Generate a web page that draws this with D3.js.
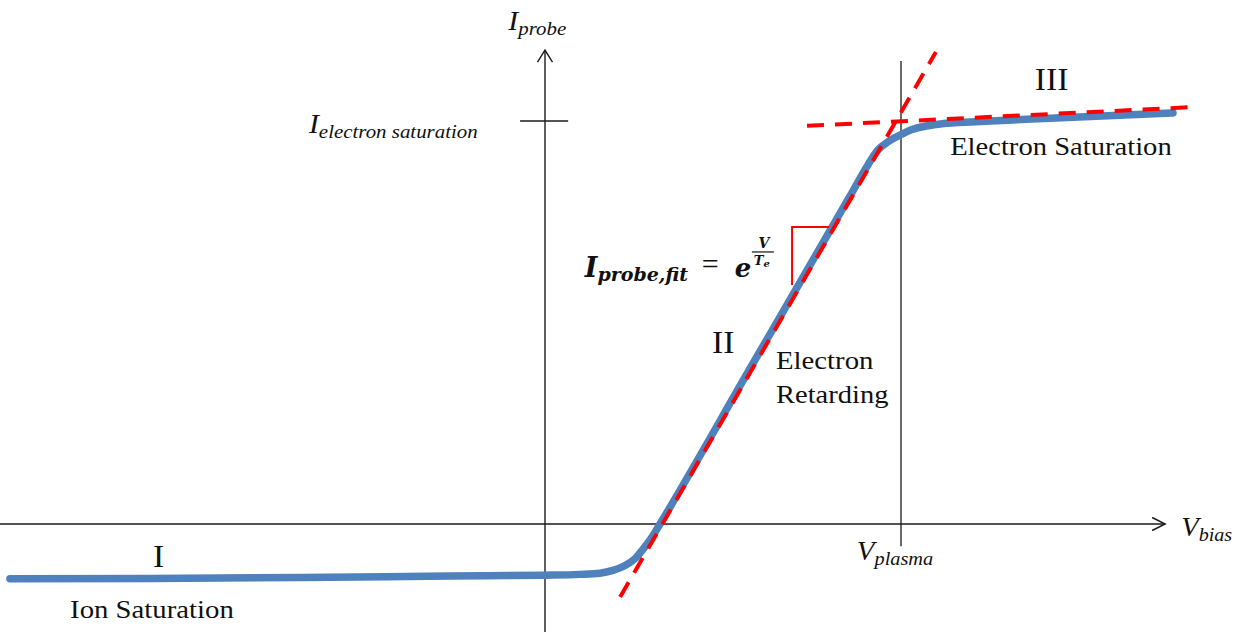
<!DOCTYPE html>
<html>
<head>
<meta charset="utf-8">
<script src="https://cdn.jsdelivr.net/npm/d3@7"></script>
<style>
  html, body { margin: 0; padding: 0; background: #fff; }
  svg { display: block; }
  text { font-family: "Liberation Serif", "Times New Roman", serif; fill: #111; }
  .math { font-family: "DejaVu Serif", serif; font-weight: bold; font-style: italic; }
</style>
</head>
<body>
<svg id="chart" width="1238" height="634"></svg>
<script>
// Langmuir probe I-V characteristic (arbitrary units)
const vBias = [-15.03, -11.10, -6.88, -2.67, 0, 0.98, 1.54, 1.91, 2.25, 2.53, 2.75, 3.01, 3.23,
               5.76, 8.57, 9.07, 9.35, 9.66, 9.97, 10.31, 10.67, 11.15, 12.08, 14.19, 17.64];
const iProbe = [-1.36, -1.35, -1.33, -1.29, -1.27, -1.25, -1.22, -1.15, -1.03, -0.86, -0.63, -0.32, 0,
                3.86, 8.14, 8.91, 9.28, 9.50, 9.65, 9.79, 9.87, 9.93, 9.98, 10.07, 10.20];

// Exponential (electron retarding) fit line
const fitV = [2.11, 10.98];
const fitI = [-1.81, 11.71];
// Electron saturation trend line
const satV = [7.36, 18.31];
const satI = [9.88, 10.35];

// Reference levels
const vPlasma = 10;
const iElectronSat = 10;

// Axis extents
const vAxisExtent = [-15.31, 17.42];
const iAxisExtent = [-2.68, 11.76];
const vPlasmaLineExtent = [-0.55, 11.49];
const iSatTickExtent = [-0.70, 0.65];

// Slope marker on the fit line
const slopeMarkV = [6.94, 6.94, 7.98];
const slopeMarkI = [5.93, 7.37, 7.37];

// Region labels
const regionNames = ["I", "II", "III"];
const regionV = [-11.01, 4.69, 13.76];
const regionI = [-1.07, 4.24, 10.78];

const svg = d3.select("#chart");

const x = d3.scaleLinear().domain([0, 10]).range([545, 901]);
const y = d3.scaleLinear().domain([0, 10]).range([524, 121]);

const axisColor = "#1a1a1a";
const g = svg.append("g");

// Axes
g.append("line")
  .attr("x1", x(vAxisExtent[0])).attr("x2", x(vAxisExtent[1]))
  .attr("y1", y(0)).attr("y2", y(0))
  .attr("stroke", axisColor).attr("stroke-width", 1.4);
g.append("line")
  .attr("x1", x(0)).attr("x2", x(0))
  .attr("y1", y(iAxisExtent[0])).attr("y2", y(iAxisExtent[1]))
  .attr("stroke", axisColor).attr("stroke-width", 1.4);

// Arrowheads
const xt = [x(vAxisExtent[1]), y(0)];
g.append("path")
  .attr("d", `M${xt[0] - 13},${xt[1] - 6.5}L${xt[0]},${xt[1]}L${xt[0] - 13},${xt[1] + 6.5}`)
  .attr("fill", "none").attr("stroke", axisColor).attr("stroke-width", 1.4);
const yt = [x(0), y(iAxisExtent[1])];
g.append("path")
  .attr("d", `M${yt[0] - 7.5},${yt[1] + 12}L${yt[0]},${yt[1]}L${yt[0] + 7.5},${yt[1] + 12}`)
  .attr("fill", "none").attr("stroke", axisColor).attr("stroke-width", 1.4);

// Plasma potential marker and saturation current tick
g.append("line")
  .attr("x1", x(vPlasma)).attr("x2", x(vPlasma))
  .attr("y1", y(vPlasmaLineExtent[0])).attr("y2", y(vPlasmaLineExtent[1]))
  .attr("stroke", axisColor).attr("stroke-width", 1.3);
g.append("line")
  .attr("x1", x(iSatTickExtent[0])).attr("x2", x(iSatTickExtent[1]))
  .attr("y1", y(iElectronSat)).attr("y2", y(iElectronSat))
  .attr("stroke", axisColor).attr("stroke-width", 1.3);

// Measured I-V curve
const curve = vBias.map((v, k) => [v, iProbe[k]]);
g.append("path")
  .datum(curve)
  .attr("d", d3.line().x(d => x(d[0])).y(d => y(d[1])).curve(d3.curveMonotoneX))
  .attr("fill", "none")
  .attr("stroke", "#4f81bd")
  .attr("stroke-width", 7.5)
  .attr("stroke-linecap", "round")
  .attr("stroke-linejoin", "round");

// Fit lines (dashed red)
const dashed = (vs, is) => g.append("line")
  .attr("x1", x(vs[0])).attr("y1", y(is[0]))
  .attr("x2", x(vs[1])).attr("y2", y(is[1]))
  .attr("stroke", "#ff0000").attr("stroke-width", 4)
  .attr("stroke-dasharray", "17 11");
dashed(fitV, fitI);
dashed(satV, satI);

// Slope marker
g.append("path")
  .datum(slopeMarkV.map((v, k) => [v, slopeMarkI[k]]))
  .attr("d", d3.line().x(d => x(d[0])).y(d => y(d[1])))
  .attr("fill", "none").attr("stroke", "#ff0000").attr("stroke-width", 2);

// Text helper: places a label at data coordinates, with a slight horizontal stretch
function label(v, i, size, parts, sx = 1) {
  const t = g.append("text")
    .attr("transform", `translate(${x(v)},${y(i)}) scale(${sx},1)`)
    .attr("font-size", size);
  parts.forEach(p => {
    const s = t.append("tspan").text(p.text);
    if (p.size) s.attr("font-size", p.size);
    if (p.dy) s.attr("dy", p.dy);
    if (p.italic) s.attr("font-style", "italic");
  });
  return t;
}

// Region numerals
regionNames.forEach((n, k) => label(regionV[k], regionI[k], 32, [{ text: n }], 1.05));

// Region descriptions
label(11.38, 9.16, 26, [{ text: "Electron Saturation" }], 1.1);
label(6.49, 3.85, 25, [{ text: "Electron" }], 1.15);
label(6.49, 3.00, 25, [{ text: "Retarding" }], 1.14);
label(-13.34, -2.33, 25, [{ text: "Ion Saturation" }], 1.15);

// Axis titles
label(-1.03, 12.26, 27, [{ text: "I", italic: true }, { text: "probe", italic: true, size: 19, dy: 5 }], 1.1);
label(-6.63, 9.70, 27, [{ text: "I", italic: true }, { text: "electron saturation", italic: true, size: 19, dy: 5 }], 1.1);
label(8.76, -0.89, 27, [{ text: "V", italic: true }, { text: "plasma", italic: true, size: 19, dy: 5 }], 1.07);
label(17.87, -0.30, 27, [{ text: "V", italic: true }, { text: "bias", italic: true, size: 19, dy: 5 }], 1.06);

// Fit formula: I_probe,fit = e^(V/Te)
const fx = x(1.12), fy = y(6.13);
const ft = g.append("text").attr("class", "math")
  .attr("transform", `translate(${fx},${fy})`)
  .attr("font-size", 27);
ft.append("tspan").text("I");
ft.append("tspan").attr("font-size", 19).attr("dy", 4).text("probe,fit");
g.append("text").attr("x", fx + 117).attr("y", fy - 3).attr("font-size", 30).text("=");
g.append("text").attr("class", "math").attr("x", fx + 150).attr("y", fy)
  .attr("font-size", 26).text("e");
const fracX = fx + 167, fracW = 22, fracY = fy - 25;
g.append("line").attr("x1", fracX).attr("x2", fracX + fracW)
  .attr("y1", fracY).attr("y2", fracY).attr("stroke", "#111").attr("stroke-width", 1.2);
g.append("text").attr("class", "math").attr("x", fracX + fracW / 2 + 1).attr("y", fracY - 4)
  .attr("font-size", 14).attr("text-anchor", "middle").text("V");
const te = g.append("text").attr("class", "math").attr("x", fracX + 2).attr("y", fracY + 13)
  .attr("font-size", 13);
te.append("tspan").text("T");
te.append("tspan").attr("font-size", 10).attr("dy", 2).text("e");
</script>
</body>
</html>
